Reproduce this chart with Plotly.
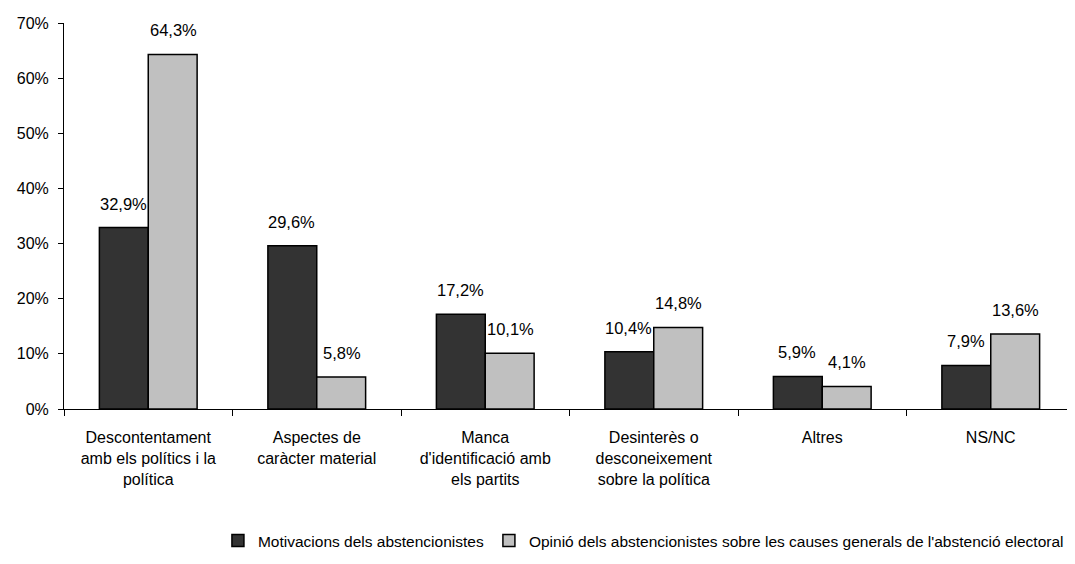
import plotly.graph_objects as go

categories = [
    'Descontentament<br>amb els polítics i la<br>política',
    'Aspectes de<br>caràcter material',
    "Manca<br>d'identificació amb<br>els partits",
    'Desinterès o<br>desconeixement<br>sobre la política',
    'Altres',
    'NS/NC',
]
motivacions = [32.9, 29.6, 17.2, 10.4, 5.9, 7.9]
opinio = [64.3, 5.8, 10.1, 14.8, 4.1, 13.6]
series_names = [
    'Motivacions dels abstencionistes',
    "Opinió dels abstencionistes sobre les causes generals de l'abstenció electoral",
]
y_ticks = [0, 10, 20, 30, 40, 50, 60, 70]

FONT = 'Liberation Sans, Arial, sans-serif'


def fmt(v):
    return f'{v:.1f}'.replace('.', ',') + '%'


fig = go.Figure()
for name, vals, color in [(series_names[0], motivacions, '#333333'),
                          (series_names[1], opinio, '#C0C0C0')]:
    fig.add_trace(go.Bar(
        x=categories, y=vals, name=name,
        marker=dict(color=color, line=dict(color='black', width=1.5)),
    ))

# value labels sit well above each bar, like the original
for shift, vals in [(-25, motivacions), (25, opinio)]:
    for cat, v in zip(categories, vals):
        fig.add_annotation(x=cat, y=v, text=fmt(v), showarrow=False,
                           xshift=shift, yshift=24, yanchor='middle',
                           font=dict(size=16.5, color='black', family=FONT))

# page body adds 8px around the figure, so size it to fit the window
fig.update_layout(
    width=1067, height=556,
    margin=dict(l=56, r=0, t=15, b=155, autoexpand=False),
    plot_bgcolor='white', paper_bgcolor='white',
    barmode='group', bargap=0.42, bargroupgap=0,
    font=dict(family=FONT, size=16, color='black'),
    showlegend=True,
    legend=dict(orientation='h', x=0.994, xanchor='right', y=-0.342, yanchor='middle',
                font=dict(size=15.5), itemwidth=30, tracegroupgap=0),
    xaxis=dict(showline=True, linecolor='black', linewidth=1, ticks='outside',
               tickson='boundaries', ticklen=6, tickcolor='black', showgrid=False,
               tickfont=dict(size=16), automargin=False, ticklabelstandoff=14),
    yaxis=dict(range=[0, 70], tickvals=y_ticks, ticktext=[f'{t}%' for t in y_ticks],
               showline=True, linecolor='black', linewidth=1, ticks='outside',
               ticklen=5, tickcolor='black', showgrid=False, zeroline=False,
               tickfont=dict(size=16), automargin=False, ticklabelstandoff=6),
)

fig.write_html('out.html')
